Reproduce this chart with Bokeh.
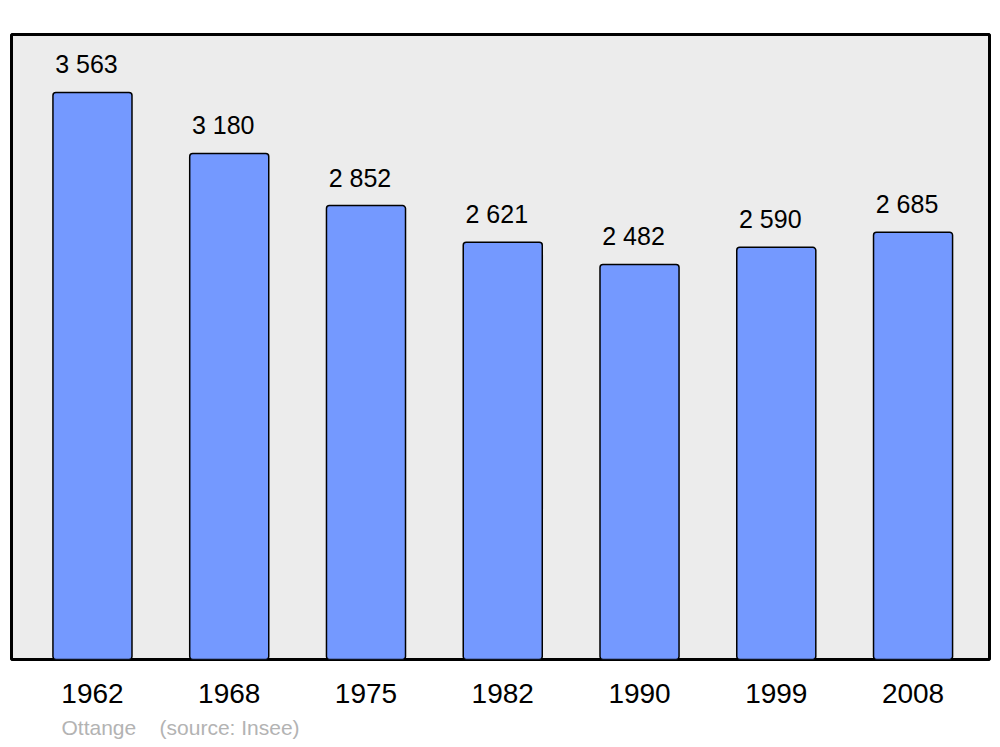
from bokeh.plotting import figure
from bokeh.models import Range1d, FixedTicker, ColumnDataSource, Title
from bokeh.core.properties import value
from bokeh.embed import file_html
from bokeh.resources import INLINE

years = ["1962", "1968", "1975", "1982", "1990", "1999", "2008"]
population = [3563, 3180, 2852, 2621, 2482, 2590, 2685]

xs = list(range(len(years)))
labels = ["{:,}".format(v).replace(",", " ") for v in population]
src = ColumnDataSource(dict(x=xs, top=population, label=labels))

p = figure(width=1000, height=747, output_backend="svg", toolbar_location=None,
           x_range=Range1d(-0.592, 6.559), y_range=Range1d(0, 3927),
           min_border_left=11, min_border_right=11, min_border_top=34, min_border_bottom=87)
p.background_fill_color = "#ececec"
p.border_fill_color = "white"
p.outline_line_color = "black"
p.outline_line_width = 3
p.grid.visible = False
p.yaxis.visible = False

p.vbar(x="x", top="top", bottom=0, width=0.578, source=src,
       fill_color="#7499ff", line_color="black", line_width=1.5, border_radius=3)
p.text(x="x", y="top", text="label", source=src, text_align="center",
       text_baseline="middle", y_offset=-28, x_offset=-6, text_font=value("Liberation Sans"),
       text_font_size="25px", text_color="black")

ax = p.xaxis[0]
ax.ticker = FixedTicker(ticks=xs)
ax.major_label_overrides = {i: y for i, y in zip(xs, years)}
ax.axis_line_color = None
ax.major_tick_line_color = None
ax.minor_tick_line_color = None
ax.major_label_standoff = 18
ax.major_label_text_font = "Liberation Sans"
ax.major_label_text_font_size = "28px"
ax.major_label_text_color = "black"

source_title = Title(text="Ottange\u00a0\u00a0\u00a0\u00a0(source: Insee)", align="left", offset=50,
                     text_font="Liberation Sans", text_font_size="21px",
                     text_font_style="normal", text_color="#b3b3b3", standoff=17)
p.add_layout(source_title, "below")

open("out.html", "w").write(file_html(p, INLINE))
